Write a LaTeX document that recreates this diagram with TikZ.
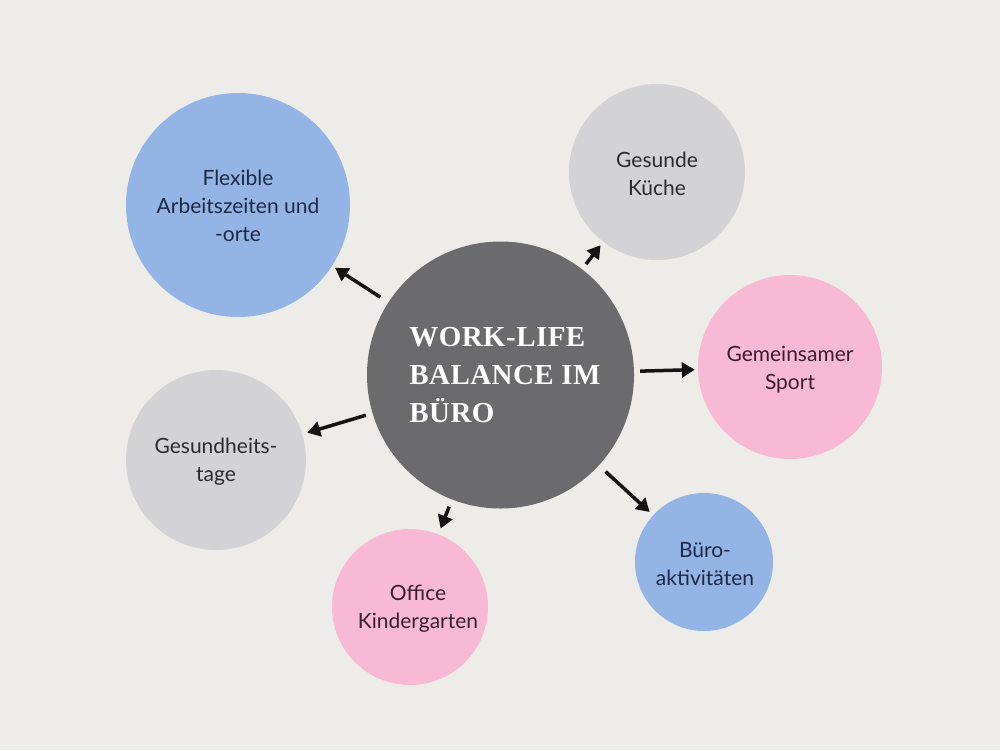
\documentclass[tikz,border=0pt]{standalone}
\usepackage{fontspec}
\setmainfont{Lato}
\newfontfamily\titlefont[LetterSpace=1.5]{Liberation Serif}
\usetikzlibrary{arrows.meta}
\definecolor{bg}{HTML}{EEECE9}
\definecolor{cblue}{HTML}{93B4E4}
\definecolor{cgray}{HTML}{D3D2D5}
\definecolor{cpink}{HTML}{F8B9D4}
\definecolor{cdark}{HTML}{6B6A6D}
\definecolor{tblue}{HTML}{1E2847}
\definecolor{tgray}{HTML}{2B2B2E}
\definecolor{tpink}{HTML}{3B1E2B}
\tikzset{
  bubble/.style={circle, inner sep=0pt, draw=none},
  lbl/.style={align=center, font=\fontsize{21}{28}\selectfont, inner sep=0pt},
  arr/.style={line width=3.5pt, -{Triangle[length=13pt,width=15pt]}, black!92},
}
\begin{document}
\begin{tikzpicture}[x=1pt,y=-1pt]
\fill[bg] (0,0) rectangle (1000,750);
\useasboundingbox (0,0) rectangle (1000,750);
% circles
\node[bubble, fill=cdark, minimum size=267pt] (c) at (500.5,375) {};
\node[bubble, fill=cblue, minimum size=224pt] (flex) at (238,205) {};
\node[bubble, fill=cgray, minimum size=176pt] (kue) at (657,172) {};
\node[bubble, fill=cpink, minimum size=184pt] (sport) at (790,367) {};
\node[bubble, fill=cblue, minimum size=138pt] (buero) at (704,562) {};
\node[bubble, fill=cpink, minimum size=156pt] (kita) at (410,607) {};
\node[bubble, fill=cgray, minimum size=180pt] (ges) at (216,460) {};
% labels
\node[align=left, inner sep=0pt, text=white, font=\titlefont\bfseries\fontsize{29}{38}\selectfont] (ct) at (505,375) {WORK-LIFE\\BALANCE IM\\BÜRO};
\node[lbl, text=tblue] (flext) at (238,206) {Flexible\\Arbeitszeiten und\\-orte};
\node[lbl, text=tgray] (kuet) at (657,174) {Gesunde\\Küche};
\node[lbl, text=tpink] (sportt) at (790,370) {Gemeinsamer\\Sport};
\node[lbl, text=tblue] (bueot) at (705,564) {Büro-\\aktivitäten};
\node[lbl, text=tpink] (kitat) at (418,609) {Office\\Kindergarten};
\node[lbl, text=tgray] (gest) at (216,462) {Gesundheits-\\tage};
% arrows
\draw[arr, shorten <=9.6pt, shorten >=3.4pt] (c) -- (flex);
\draw[arr, shorten <=6.3pt, shorten >=4.2pt] (c) -- (kue);
\draw[arr, shorten <=6pt, shorten >=3pt] (c) -- (sport);
\draw[arr, shorten <=9pt, shorten >=4.7pt] (c) -- (buero);
\draw[arr, shorten <=7.7pt, shorten >=6pt] (c) -- (kita);
\draw[arr, shorten <=6.8pt, shorten >=5pt] (c) -- (ges);
\end{tikzpicture}
\end{document}
